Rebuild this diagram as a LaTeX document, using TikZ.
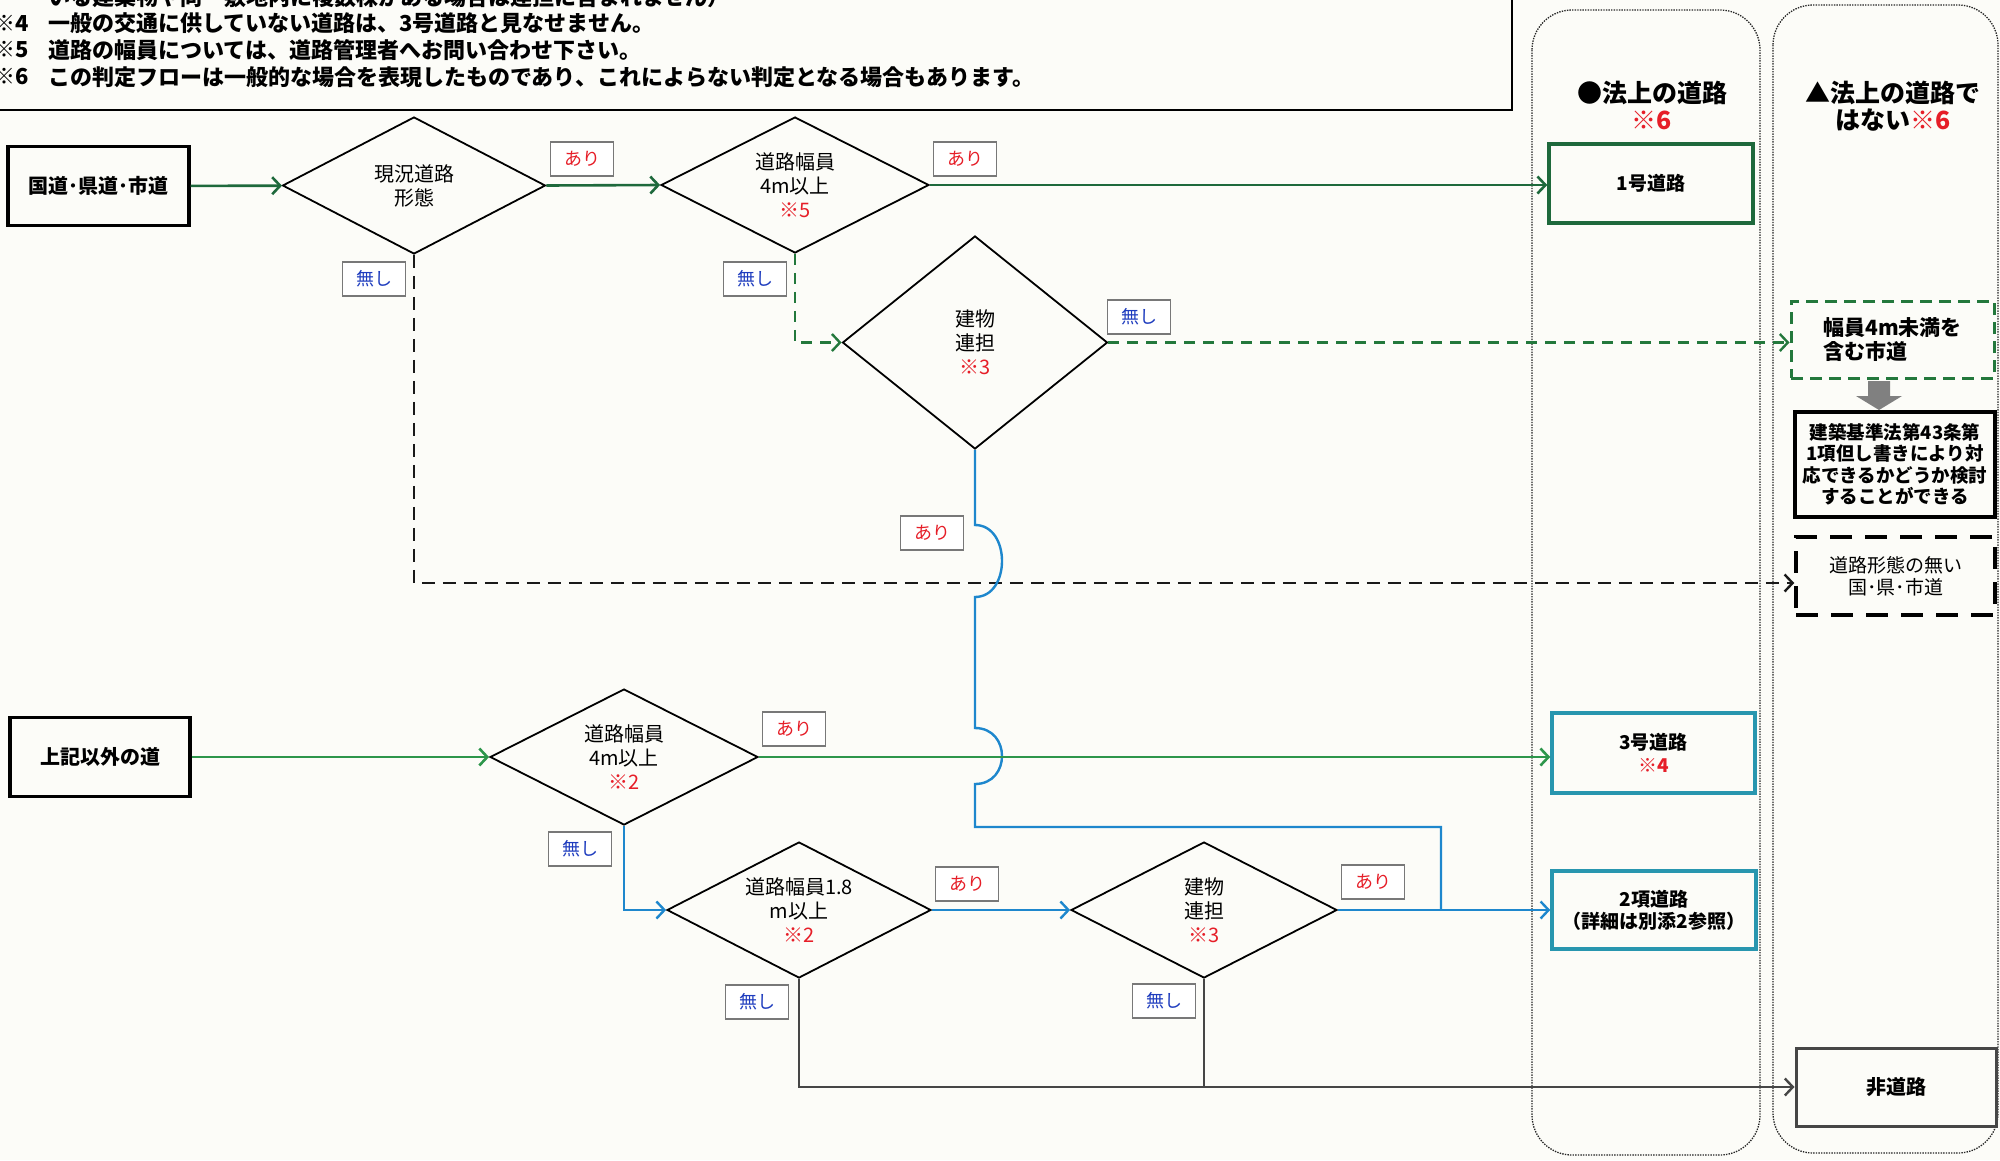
\documentclass[tikz,border=0pt]{standalone}
\usepackage{fontspec}
\setmainfont{Noto Sans CJK JP}
\usetikzlibrary{shapes.geometric,arrows.meta,calc}
\definecolor{bgc}{RGB}{252,252,248}
\definecolor{dkgreen}{RGB}{30,105,60}
\definecolor{ltgreen}{RGB}{45,150,75}
\definecolor{gdashc}{RGB}{35,120,60}
\definecolor{blueL}{RGB}{30,135,205}
\definecolor{tealc}{RGB}{40,150,175}
\definecolor{redT}{RGB}{230,30,40}
\definecolor{blueT}{RGB}{30,60,190}
\definecolor{grayline}{RGB}{70,70,70}
\definecolor{labgray}{RGB}{120,120,120}
\begin{document}
\begin{tikzpicture}[x=1pt,y=-1pt,
  dia/.style={diamond, aspect=1.95, draw, line width=1.8pt, inner sep=0pt, align=center, font=\fontsize{20}{24}\selectfont},
  lab/.style={draw=labgray, line width=1.2pt, fill=white, minimum width=63pt, minimum height=34pt, inner sep=0pt, font=\fontsize{18}{20}\selectfont},
  ari/.style={lab, text=redT},
  nashi/.style={lab, text=blueT},
  termbox/.style={draw, line width=3.2pt, inner sep=0pt, align=center, font=\bfseries\fontsize{20}{23}\selectfont},
  resbox/.style={draw, line width=3.5pt, inner sep=0pt, align=center, font=\bfseries\fontsize{19}{23}\selectfont},
  colbox/.style={draw=black!85, line width=1.3pt, dash pattern=on 1.4pt off 1.2pt, rounded corners=40pt},
  arr/.style={-{Straight Barb[length=8pt,width=17pt]}},
  gk/.style={draw=dkgreen, line width=2.6pt},
  gl/.style={draw=ltgreen, line width=2.6pt},
  gdash/.style={draw=gdashc, line width=2.4pt, dash pattern=on 11pt off 8pt},
  kdash/.style={draw=black!90, line width=2.4pt, dash pattern=on 13pt off 8pt},
  bl/.style={draw=blueL, line width=2.4pt},
  gy/.style={draw=grayline, line width=2.4pt},
  notetxt/.style={anchor=west, inner sep=0pt, font=\bfseries\fontsize{22}{24}\selectfont}
]
\useasboundingbox (0,0) rectangle (2000,1160);
\fill[bgc] (0,0) rectangle (2000,1160);

% note frame and text
\draw[line width=1.5pt] (-10,110) -- (1512,110) -- (1512,-10);
\node[notetxt] (n0) at (48,-3) {いる建築物や同一敷地内に複数棟がある場合は連担に含まれません）};
\node[notetxt, anchor=east] (n4a) at (29,23) {※4};
\node[notetxt] (n4) at (48,23) {一般の交通に供していない道路は、3号道路と見なせません。};
\node[notetxt, anchor=east] (n5a) at (29,50) {※5};
\node[notetxt] (n5) at (48,50) {道路の幅員については、道路管理者へお問い合わせ下さい。};
\node[notetxt, anchor=east] (n6a) at (29,77) {※6};
\node[notetxt] (n6) at (48,77) {この判定フローは一般的な場合を表現したものであり、これによらない判定となる場合もあります。};

% columns
\draw[colbox] (1532,10) rectangle (1760,1155);
\draw[colbox] (1773,5) rectangle (1998,1153);
\node[font=\bfseries\fontsize{25}{28}\selectfont] (h1) at (1652,93) {●法上の道路};
\node[font=\bfseries\fontsize{25}{28}\selectfont, text=redT] (h1b) at (1652,120) {※6};
\node[font=\bfseries\fontsize{25}{28}\selectfont] (h2) at (1893,93) {▲法上の道路で};
\node[font=\bfseries\fontsize{25}{28}\selectfont] (h2b) at (1893,120) {はない\textcolor{redT}{※6}};

% start boxes
\node[termbox, minimum width=181pt, minimum height=79pt] (b1) at (98.5,186) {国道･県道･市道};
\node[termbox, minimum width=180pt, minimum height=79pt] (b2) at (100,757) {上記以外の道};

% diamonds
\node[dia, minimum width=263pt, minimum height=137pt] (d1) at (414,185.5) {現況道路\\形態};
\node[dia, minimum width=268pt, minimum height=136pt] (d2) at (795,185) {道路幅員\\4m以上\\\textcolor{redT}{※5}};
\node[dia, aspect=1.2, minimum width=265pt, minimum height=213pt] (d3) at (975,342.5) {建物\\連担\\\textcolor{redT}{※3}};
\node[dia, minimum width=268pt, minimum height=136pt] (d4) at (624,757) {道路幅員\\4m以上\\\textcolor{redT}{※2}};
\node[dia, minimum width=264pt, minimum height=136pt] (d5) at (799,910) {道路幅員1.8\\m以上\\\textcolor{redT}{※2}};
\node[dia, minimum width=266pt, minimum height=136pt] (d6) at (1204,910) {建物\\連担\\\textcolor{redT}{※3}};

% result boxes
\node[resbox, draw=dkgreen, minimum width=204pt, minimum height=79pt] (r1) at (1651,183.5) {1号道路};
\node[resbox, draw=tealc, minimum width=203pt, minimum height=80pt] (r2) at (1653.5,753) {3号道路\\\textcolor{redT}{※4}};
\node[resbox, draw=tealc, minimum width=204pt, minimum height=78pt, font=\bfseries\fontsize{19}{22}\selectfont] (r3) at (1654,910) {2項道路\\（詳細は別添2参照）};
\node[resbox, draw=gdashc, line width=3pt, dash pattern=on 12pt off 7pt, minimum width=203pt, minimum height=77pt, align=left, font=\bfseries\fontsize{21}{24}\selectfont] (m4) at (1892.5,339.5) {幅員4m未満を\\含む市道};
\node[resbox, minimum width=200pt, minimum height=105pt, font=\bfseries\fontsize{18.5}{21.5}\selectfont] (m45) at (1895,464.5) {建築基準法第43条第\\1項但し書きにより対\\応できるかどうか検討\\することができる};
\node[resbox, dash pattern=on 22pt off 13pt, minimum width=199pt, minimum height=78pt, font=\fontsize{19}{22}\selectfont] (m5) at (1895.5,576) {道路形態の無い\\国･県･市道};
\node[resbox, draw=grayline, line width=3pt, minimum width=200pt, minimum height=78pt, font=\bfseries\fontsize{20}{23}\selectfont] (m6) at (1896,1087) {非道路};

% gray block arrow
\fill[black!50] (1868,381) -- (1890,381) -- (1890,396) -- (1902,396) -- (1879,410) -- (1856,396) -- (1868,396) -- cycle;

% connectors
\coordinate (jn) at (1441,910);
\draw[gk, arr] (b1) -- (d1);
\draw[gk, arr] (d1.east) -- (d2.west);
\draw[gk, arr] (d2.east) -- (r1.west |- d2.east);
\draw[gdash, arr] (d2.south) |- (d3.west);
\draw[gdash, arr] (d3.east) -- (m4.west |- d3.east);
\draw[kdash, arr] (d1.south) |- ($(m5.west)+(0,7)$);
\draw[bl] (d3.south) -- (975,525) .. controls (1011,525) and (1011,597) .. (975,597) -- (975,728) .. controls (1011,728) and (1011,784) .. (975,784) -- (975,827) -- (1441,827) -- (jn);
\draw[gl, arr] (b2) -- (d4);
\draw[gl, arr] (d4.east) -- (r2.west |- d4.east);
\draw[bl, arr] (d4.south) |- (d5.west);
\draw[bl, arr] (d5.east) -- (d6.west);
\draw[bl, arr] (d6.east) -- (r3.west);
\draw[gy, arr] (d5.south) |- (m6.west);
\draw[gy] (d6.south) -- (d6.south |- m6.west);

% labels
\node[ari] (la1) at (582,159) {あり};
\node[ari] (la2) at (965,159) {あり};
\node[nashi] (ln1) at (374,279) {無し};
\node[nashi] (ln2) at (755,279) {無し};
\node[nashi] (ln3) at (1139,317) {無し};
\node[ari] (la3) at (932,533) {あり};
\node[ari] (la4) at (794,729) {あり};
\node[nashi] (ln4) at (580,849) {無し};
\node[ari] (la5) at (967,884) {あり};
\node[ari] (la6) at (1373,882) {あり};
\node[nashi] (ln5) at (757,1002) {無し};
\node[nashi] (ln6) at (1164,1001) {無し};
\end{tikzpicture}
\end{document}
